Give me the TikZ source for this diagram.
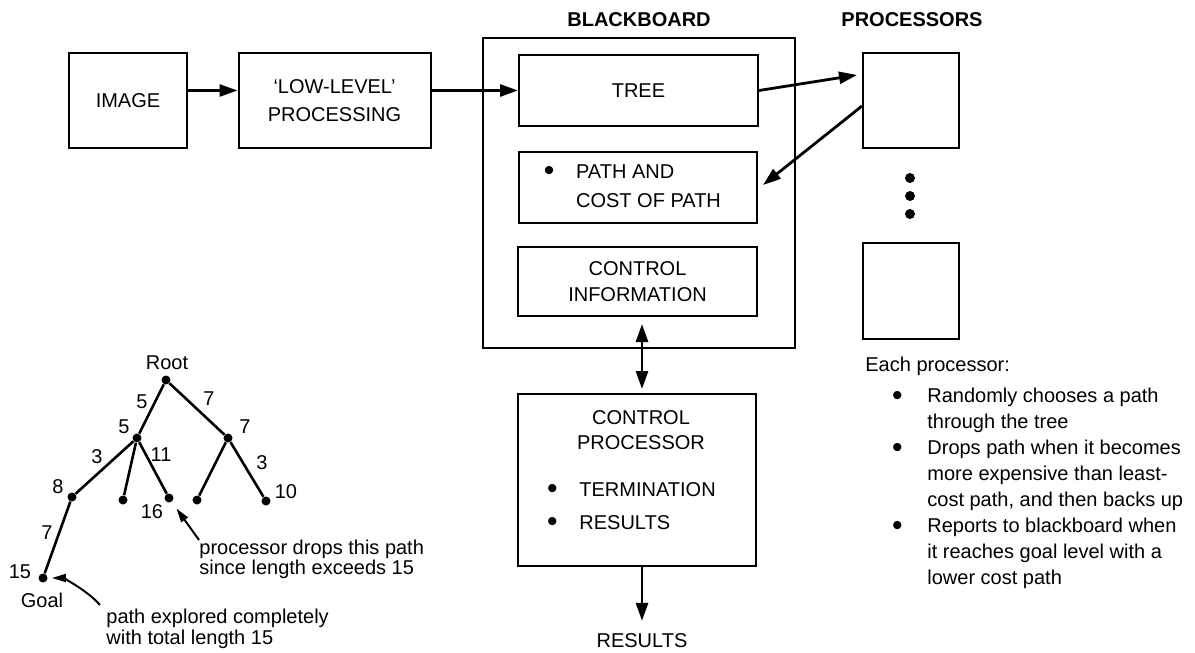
\documentclass[tikz,border=0pt]{standalone}
\usepackage{fontspec}
\setmainfont{Liberation Sans}
\usetikzlibrary{arrows.meta}
\newcommand{\bul}{\makebox[8pt][c]{\raisebox{-1.3pt}{\fontsize{15}{13}\selectfont\textbullet}}}

\begin{document}
\begin{tikzpicture}[x=0.5pt,y=-0.5pt,
    font=\fontsize{10}{13}\selectfont,
    box/.style={draw, line width=1pt, inner sep=0pt, align=center},
    txt/.style={inner sep=0pt, align=left},
    head/.style={font=\fontsize{10}{13}\selectfont\bfseries},
    arr/.style={line width=1.4pt, -{Triangle[length=9pt,width=6pt]}},
    dot/.style={circle, fill, inner sep=0pt, minimum size=4.5pt},
    branch/.style={line width=1.3pt},
    callout/.style={line width=1pt, -{Triangle[length=7pt,width=4pt]}}]
    \useasboundingbox (0,0) rectangle (1195,653);

    % front end
    \node (image) [box, minimum width=59pt, minimum height=47.5pt] at (128,100.5) {IMAGE};
    \node (low)   [box, minimum width=96pt, minimum height=47.5pt] at (334.5,100.5) {`LOW-LEVEL'\\[1pt]PROCESSING};

    % blackboard
    \node (bbtitle) [head] at (639,20) {BLACKBOARD};
    \node (bboard) [box, minimum width=156pt, minimum height=155pt] at (639,193) {};
    \node (tree) [box, minimum width=119.5pt, minimum height=35.5pt] at (638.5,90.5) {TREE};
    \node (path) [box, minimum width=119pt, minimum height=35.5pt] at (638,187.5)
        {\begin{tabular}{@{}l@{\hspace{9.5pt}}l@{\hspace{7pt}}}\bul & PATH AND\\[1.5pt] & COST OF PATH\end{tabular}};
    \node (info) [box, minimum width=119.5pt, minimum height=34.5pt] at (637.5,281.5) {CONTROL\\INFORMATION};

    % processors
    \node (proctitle) [head] at (912,20) {PROCESSORS};
    \node (proc1) [box, minimum width=48pt, minimum height=47.5pt] at (911,100.5) {};
    \node (proc2) [box, minimum width=48pt, minimum height=48pt] at (911,291) {};
    \foreach \y in {178,196,214}
        \fill (910,\y) circle (2.5pt);

    % control processor
    \node (ctrl) [box, minimum width=119pt, minimum height=86pt] at (637,480) {};
    \node (ctrltitle) [align=center, font=\fontsize{10}{12.5}\selectfont] at (641,430.5) {CONTROL\\PROCESSOR};
    \node (ctrllist) [txt, anchor=west] at (544,507.5)
        {\begin{tabular}{@{}l@{\hspace{9.5pt}}l@{}}\bul & TERMINATION\\[3.5pt] \bul & RESULTS\end{tabular}};
    \node (results) at (642,641) {RESULTS};

    \draw[arr] (image.east |- tree.west) -- (low.west |- tree.west);
    \draw[arr] (low.east |- tree.west) -- (tree.west);
    \draw[arr] (tree.east) -- ([shift={(-2.5pt,12.75pt)}]proc1.west);
    \draw[arr] ([yshift=-2.75pt]proc1.west) -- ([shift={(2.5pt,1.25pt)}]path.east);
    \draw[arr, {Triangle[length=9pt,width=6pt]}-{Triangle[length=9pt,width=6pt]}, shorten <=3.5pt, shorten >=2pt]
        (info.south -| results.north) -- (ctrl.north -| results.north);
    \draw[arr, shorten >=3pt] (ctrl.south -| results.north) -- (results.north);

    % processor notes
    \node (each) [txt, anchor=west] at (865,366) {Each processor:};
    \node (plist) [txt, anchor=north west] at (889,384)
        {\begin{tabular}{@{}l@{\hspace{11pt}}l@{}}
        \bul & Randomly chooses a path\\
             & through the tree\\
        \bul & Drops path when it becomes\\
             & more expensive than least-\\
             & cost path, and then backs up\\
        \bul & Reports to blackboard when\\
             & it reaches goal level with a\\
             & lower cost path
        \end{tabular}};

    % search tree
    \node (root) [dot] at (166,380) {};
    \node (n5)   [dot] at (137,438) {};
    \node (n7)   [dot] at (228,438) {};
    \node (n8)   [dot] at (72,497) {};
    \node (nm)   [dot] at (123,500) {};
    \node (n16)  [dot] at (169,498) {};
    \node (nl)   [dot] at (197,500) {};
    \node (n10)  [dot] at (266,501) {};
    \node (goal) [dot] at (43,578) {};
    \draw[branch] (root) -- (n5);
    \draw[branch] (root) -- (n7);
    \draw[branch] (n5) -- (n8);
    \draw[branch] (n5) -- (nm);
    \draw[branch] (n5) -- (n16);
    \draw[branch] (n7) -- (nl);
    \draw[branch] (n7) -- (n10);
    \draw[branch] (n8) -- (goal);

    \node (rootlbl) at (167,363) {Root};
    \node (goallbl) at (42,600) {Goal};
    \node (w5)  at (142,402) {5};
    \node (w7)  at (209,399) {7};
    \node (v5)  at (124,427) {5};
    \node (v7)  at (245,427) {7};
    \node (w3)  at (97,457)  {3};
    \node (w11) at (161,455) {11};
    \node (w3r) at (262,463) {3};
    \node (v8)  at (58,487)  {8};
    \node (v16) at (152,512) {16};
    \node (v10) at (286,492) {10};
    \node (w7g) at (47,533)  {7};
    \node (v15) at (20,572)  {15};

    \node (note2) [txt, anchor=north west, font=\fontsize{10}{10}\selectfont] at (199,540)
        {processor drops this path\\since length exceeds 15};
    \node (note1) [txt, anchor=north west, font=\fontsize{10}{10.5}\selectfont] at (106,609)
        {path explored completely\\with total length 15};
    \draw[callout, shorten >=4pt] (note2.north west) -- (n16);
    \draw[callout, shorten >=2pt] ([shift={(-3pt,2pt)}]note1.north west) .. controls +(-15,-17) and +(18,0) .. (goal);
\end{tikzpicture}
\end{document}
